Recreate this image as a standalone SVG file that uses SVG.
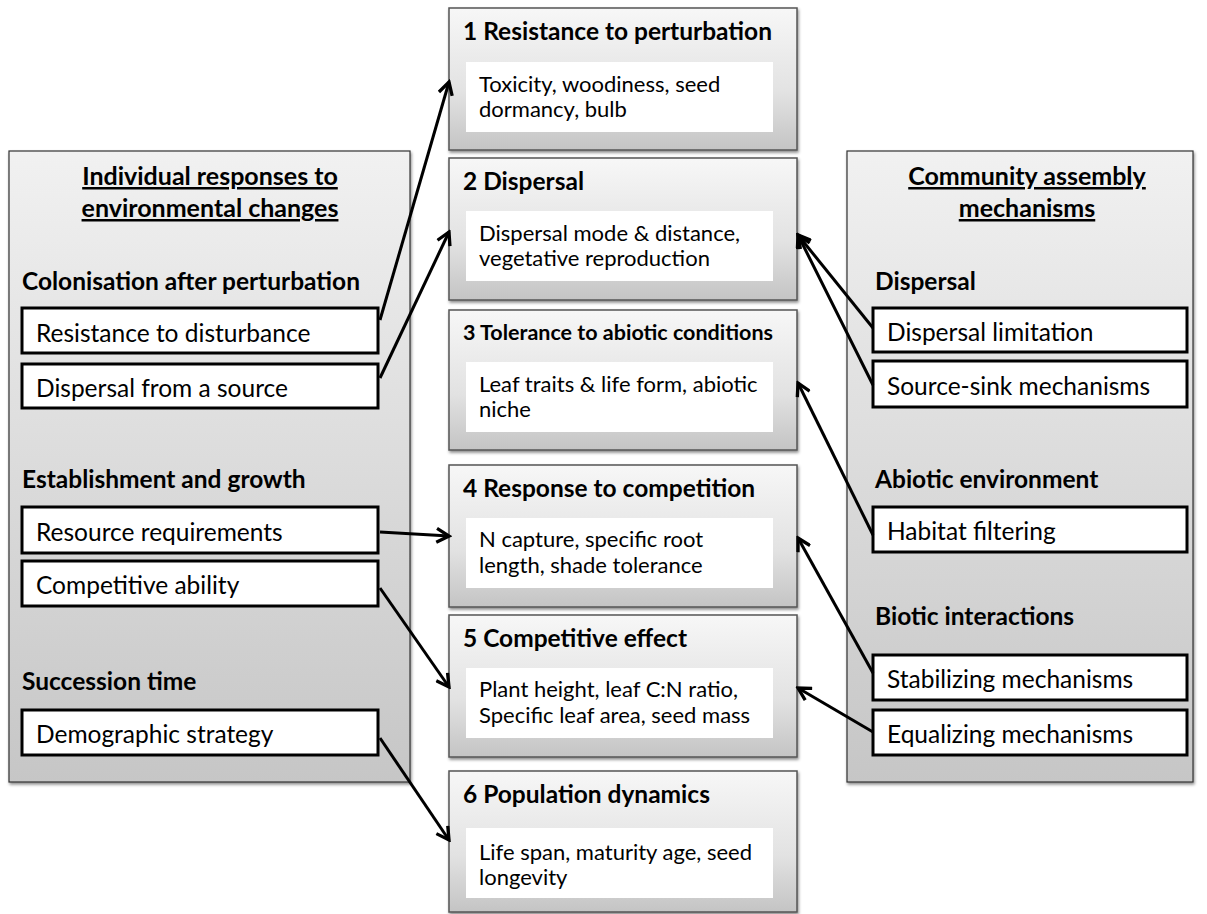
<svg xmlns="http://www.w3.org/2000/svg" width="1207" height="914" viewBox="0 0 1207 914">
<style>
text{font-family:Lato,"Liberation Sans",sans-serif;fill:#000}
.hd{font-size:25px;font-weight:bold;text-decoration:underline}
.sec{font-size:24.5px;font-weight:bold}
.lbl{font-size:24.5px}
.tt{font-size:24.5px;font-weight:bold}
.tt3{font-size:21.5px;font-weight:bold}
.bd{font-size:22px}
.panel{fill:url(#gPanel);stroke:#333;stroke-width:1.2}
.card{fill:url(#gCard);stroke:#555;stroke-width:1.5}
.inner{fill:#fff}
.wb{fill:#fff;stroke:#000;stroke-width:3}
.arr{stroke:#000;stroke-width:3;fill:none;marker-end:url(#ah)}
</style>
<defs>
<linearGradient id="gPanel" x1="0" y1="0" x2="0" y2="1">
<stop offset="0" stop-color="#f1f1f1"/><stop offset="1" stop-color="#c6c6c6"/>
</linearGradient>
<linearGradient id="gCard" x1="0" y1="0" x2="0" y2="1">
<stop offset="0" stop-color="#f7f7f7"/><stop offset="0.6" stop-color="#e2e2e2"/><stop offset="1" stop-color="#c4c4c4"/>
</linearGradient>
<filter id="sh" x="-5%" y="-5%" width="110%" height="110%">
<feDropShadow dx="1" dy="2" stdDeviation="1.5" flood-color="#000" flood-opacity="0.45"/>
</filter>
<marker id="ah" viewBox="0 0 12 12" refX="10" refY="6" markerWidth="5.5" markerHeight="5.5" markerUnits="strokeWidth" orient="auto">
<path d="M1,1 L10,6 L1,11" fill="none" stroke="#000" stroke-width="2.4"/>
</marker>
</defs>

<g id="left-panel">
<rect class="panel" x="9" y="151" width="401" height="631" filter="url(#sh)"/>
<text class="hd" x="210" y="185" text-anchor="middle">Individual responses to</text>
<text class="hd" x="210" y="217" text-anchor="middle">environmental changes</text>
<text class="sec" x="22" y="290">Colonisation after perturbation</text>
<text class="sec" x="22" y="488">Establishment and growth</text>
<text class="sec" x="22" y="690">Succession time</text>
</g>
<g id="l-resistance"><rect class="wb" x="22" y="308" width="356" height="45"/><text class="lbl" x="36" y="342">Resistance to disturbance</text></g>
<g id="l-dispersal"><rect class="wb" x="22" y="364" width="356" height="44"/><text class="lbl" x="36" y="397">Dispersal from a source</text></g>
<g id="l-resource"><rect class="wb" x="22" y="507" width="356" height="46"/><text class="lbl" x="36" y="541">Resource requirements</text></g>
<g id="l-competitive"><rect class="wb" x="22" y="561" width="356" height="45"/><text class="lbl" x="36" y="594">Competitive ability</text></g>
<g id="l-demographic"><rect class="wb" x="22" y="710" width="356" height="45"/><text class="lbl" x="36" y="743">Demographic strategy</text></g>

<g id="right-panel">
<rect class="panel" x="847" y="151" width="346" height="631" filter="url(#sh)"/>
<text class="hd" x="1027" y="185" text-anchor="middle">Community assembly</text>
<text class="hd" x="1027" y="217" text-anchor="middle">mechanisms</text>
<text class="sec" x="875" y="290">Dispersal</text>
<text class="sec" x="875" y="488">Abiotic environment</text>
<text class="sec" x="875" y="625">Biotic interactions</text>
</g>
<g id="r-displim"><rect class="wb" x="873" y="308" width="314" height="44"/><text class="lbl" x="887" y="341">Dispersal limitation</text></g>
<g id="r-sourcesink"><rect class="wb" x="873" y="361" width="314" height="46"/><text class="lbl" x="887" y="395">Source-sink mechanisms</text></g>
<g id="r-habitat"><rect class="wb" x="873" y="507" width="314" height="45"/><text class="lbl" x="887" y="540">Habitat filtering</text></g>
<g id="r-stabilizing"><rect class="wb" x="873" y="655" width="314" height="45"/><text class="lbl" x="887" y="688">Stabilizing mechanisms</text></g>
<g id="r-equalizing"><rect class="wb" x="873" y="710" width="314" height="45"/><text class="lbl" x="887" y="743">Equalizing mechanisms</text></g>

<g id="c1"><rect class="card" x="449" y="8" width="348" height="142" filter="url(#sh)"/><text class="tt" x="463" y="40">1 Resistance to perturbation</text><rect class="inner" x="466" y="62" width="307" height="70"/><text class="bd" x="479" y="92">Toxicity, woodiness, seed</text><text class="bd" x="479" y="117">dormancy, bulb</text></g>
<g id="c2"><rect class="card" x="449" y="158" width="348" height="142" filter="url(#sh)"/><text class="tt" x="463" y="190">2 Dispersal</text><rect class="inner" x="466" y="211" width="307" height="70"/><text class="bd" x="479" y="241">Dispersal mode &amp; distance,</text><text class="bd" x="479" y="266">vegetative reproduction</text></g>
<g id="c3"><rect class="card" x="449" y="310" width="348" height="140" filter="url(#sh)"/><text class="tt3" x="463" y="340">3 Tolerance to abiotic conditions</text><rect class="inner" x="466" y="362" width="307" height="70"/><text class="bd" x="479" y="392">Leaf traits &amp; life form, abiotic</text><text class="bd" x="479" y="417">niche</text></g>
<g id="c4"><rect class="card" x="449" y="465" width="348" height="142" filter="url(#sh)"/><text class="tt" x="463" y="497">4 Response to competition</text><rect class="inner" x="466" y="518" width="307" height="70"/><text class="bd" x="479" y="547">N capture, specific root</text><text class="bd" x="479" y="573">length, shade tolerance</text></g>
<g id="c5"><rect class="card" x="449" y="615" width="348" height="142" filter="url(#sh)"/><text class="tt" x="463" y="647">5 Competitive effect</text><rect class="inner" x="466" y="668" width="307" height="70"/><text class="bd" x="479" y="697">Plant height, leaf C:N ratio,</text><text class="bd" x="479" y="723">Specific leaf area, seed mass</text></g>
<g id="c6"><rect class="card" x="449" y="771" width="348" height="141" filter="url(#sh)"/><text class="tt" x="463" y="803">6 Population dynamics</text><rect class="inner" x="466" y="828" width="307" height="70"/><text class="bd" x="479" y="860">Life span, maturity age, seed</text><text class="bd" x="479" y="885">longevity</text></g>

<g id="connectors">
<line class="arr" x1="380" y1="320" x2="449" y2="82"/>
<line class="arr" x1="380" y1="378" x2="449" y2="232"/>
<line class="arr" x1="380" y1="532" x2="449" y2="536"/>
<line class="arr" x1="380" y1="588" x2="449" y2="687"/>
<line class="arr" x1="380" y1="738" x2="449" y2="840"/>
<line class="arr" x1="873" y1="328" x2="798" y2="235"/>
<line class="arr" x1="873" y1="385" x2="798" y2="235"/>
<line class="arr" x1="873" y1="535" x2="798" y2="383"/>
<line class="arr" x1="873" y1="673" x2="798" y2="538"/>
<line class="arr" x1="873" y1="732" x2="798" y2="688"/>
</g>
</svg>
